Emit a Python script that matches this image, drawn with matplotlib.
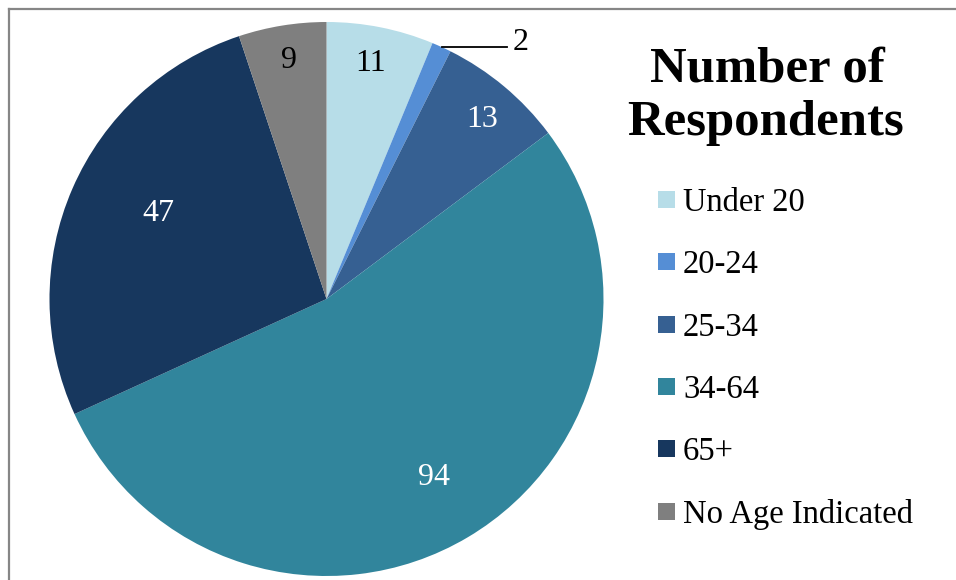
import matplotlib
matplotlib.use("Agg")
import matplotlib.pyplot as plt
from matplotlib.lines import Line2D
from matplotlib.patches import Rectangle
import numpy as np

categories = ["Under 20", "20-24", "25-34", "34-64", "65+", "No Age Indicated"]
respondents = [11, 2, 13, 94, 47, 9]
colors = ["#B7DDE8", "#558ED5", "#366092", "#31859C", "#17375E", "#7F7F7F"]
label_colors = ["black", "black", "white", "white", "white", "black"]
label_dist = [0.876, None, 0.866, 0.742, 0.687, 0.884]
label_nudge = [0.7, 0, -0.5, 1.0, -4.5, -0.5]  # degrees

plt.rcParams["font.family"] = ["Liberation Serif", "DejaVu Serif"]

W, H = 956, 580
fig = plt.figure(figsize=(W / 100, H / 100), dpi=100)

cx, cy, r = 326.5, 299, 277
ax = fig.add_axes([(cx - r) / W, (H - cy - r) / H, 2 * r / W, 2 * r / H])
wedges, _ = ax.pie(respondents, colors=colors, startangle=90, counterclock=False,
                   radius=1, wedgeprops=dict(linewidth=0))
ax.set_xlim(-1, 1)
ax.set_ylim(-1, 1)
ax.set_aspect("equal")
ax.axis("off")

for w, val, c, d, nd in zip(wedges, respondents, label_colors, label_dist, label_nudge):
    mid = np.deg2rad((w.theta1 + w.theta2) / 2 + nd)
    if d is None:
        # small slice: label outside with leader line
        x0, y0 = np.cos(mid), np.sin(mid)
        ax.plot([x0, x0 + 0.238], [y0, y0], color="black", lw=1.3, clip_on=False)
        ax.text(x0 + 0.255, y0 + 0.029, str(val), ha="left", va="center_baseline",
                fontsize=23, color=c, clip_on=False)
    else:
        ax.text(d * np.cos(mid), d * np.sin(mid), str(val), ha="center",
                va="center_baseline", fontsize=23, color=c)

fig.text(767 / W, 1 - 82 / H, "Number of", ha="center", va="baseline",
         fontsize=36.5, fontweight="bold")
fig.text(766 / W, 1 - 135 / H, "Respondents", ha="center", va="baseline",
         fontsize=36.5, fontweight="bold")

# legend drawn by hand: square + label per row
for i, (cat, col) in enumerate(zip(categories, colors)):
    base = 211 + 62.3 * i
    fig.add_artist(Rectangle((658 / W, 1 - (base - 3) / H), 17 / W, 17 / H,
                             transform=fig.transFigure, color=col, lw=0))
    fig.text(683 / W, 1 - base / H, cat, ha="left", va="baseline", fontsize=23.5)

fig.add_artist(Line2D([8.5 / W, 1], [1 - 8.5 / H, 1 - 8.5 / H], color="#868686", lw=1.6))
fig.add_artist(Line2D([8.5 / W, 8.5 / W], [0, 1 - 8.5 / H], color="#868686", lw=1.6))

fig.savefig("out.png", dpi=100)
